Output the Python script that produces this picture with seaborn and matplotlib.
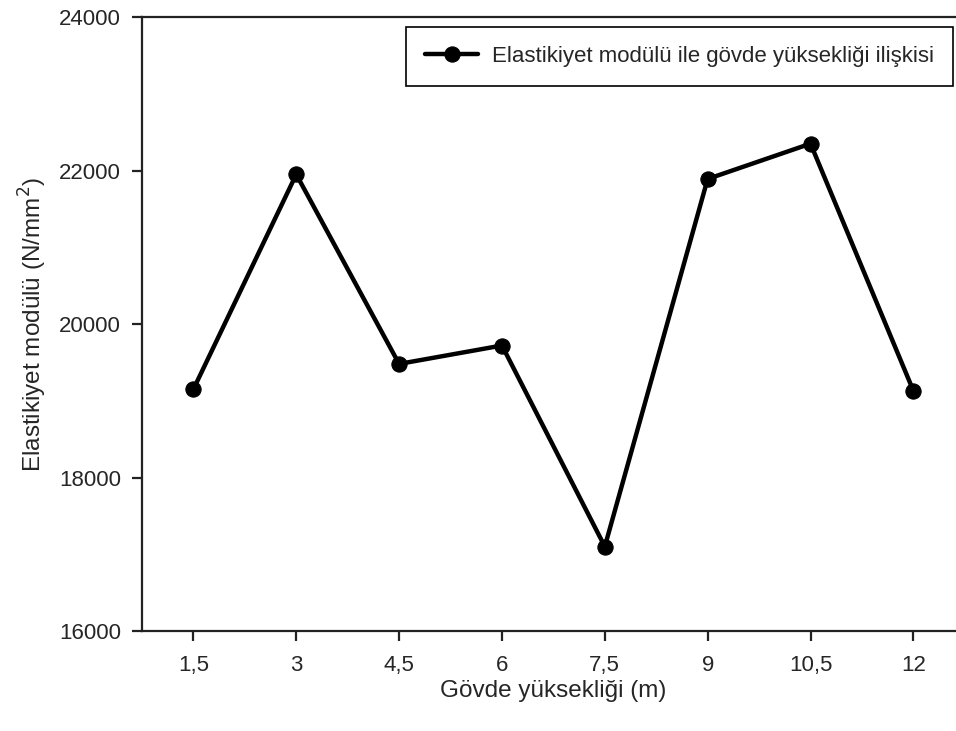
import matplotlib
matplotlib.use("Agg")
import matplotlib.pyplot as plt
import seaborn as sns
import pandas as pd

# Stem height (m) and modulus of elasticity (N/mm²)
heights = [1.5, 3, 4.5, 6, 7.5, 9, 10.5, 12]
modulus = [19150, 21950, 19480, 19720, 17100, 21890, 22350, 19130]
x_tick_labels = ["1,5", "3", "4,5", "6", "7,5", "9", "10,5", "12"]
y_ticks = [16000, 18000, 20000, 22000, 24000]
series_name = "Elastikiyet modülü ile gövde yüksekliği ilişkisi"

sns.set_style("ticks")
plt.rcParams["font.family"] = ["Liberation Sans", "DejaVu Sans"]
plt.rcParams["font.size"] = 16

df = pd.DataFrame({"h": heights, "E": modulus, "seri": series_name})

fig = plt.figure(figsize=(9.56, 7.31), dpi=100)
ax = fig.add_axes([0.1485, 0.1368, 0.8607, 0.8399])

sns.lineplot(data=df, x="h", y="E", hue="seri", palette=["black"],
             marker="o", markersize=11, linewidth=3.2,
             markeredgecolor="black", ax=ax)

ax.set_xlim(0.75, 12.75)
ax.set_ylim(16000, 24000)
ax.set_xticks(heights)
ax.set_xticklabels(x_tick_labels)
ax.set_yticks(y_ticks)
ax.tick_params(axis="both", direction="out", length=7, width=1.6,
               labelsize=16, color="#222222")
ax.tick_params(axis="x", pad=10)
ax.tick_params(axis="y", pad=8)
for s in ax.spines.values():
    s.set_linewidth(1.6)
    s.set_color("#222222")

ax.set_xlabel("Gövde yüksekliği (m)", fontsize=17.5, labelpad=3)
ax.set_ylabel("Elastikiyet modülü (N/mm$^2$)", fontsize=17.5, labelpad=7)

leg = ax.legend(loc="upper right", bbox_to_anchor=(0.9853, 0.9837),
                borderaxespad=0, frameon=True, fancybox=False,
                edgecolor="black", fontsize=16, handlelength=2.4,
                borderpad=0.85, handletextpad=0.6)
leg.get_frame().set_linewidth(1.2)
leg.get_frame().set_alpha(1)
leg.set_title(None)

fig.savefig("out.png", dpi=100, facecolor="white")
